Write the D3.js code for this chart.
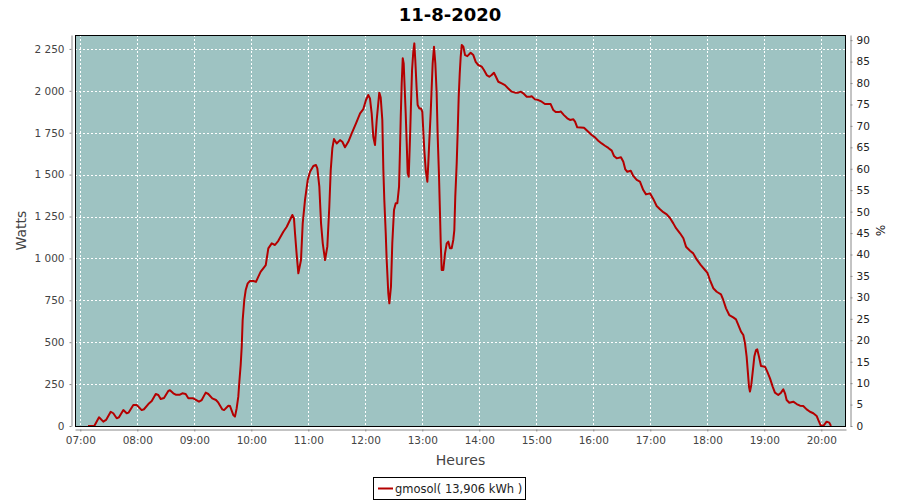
<!DOCTYPE html>
<html>
<head>
<meta charset="utf-8">
<script src="https://cdn.jsdelivr.net/npm/d3@7"></script>
<style>
  html, body { margin: 0; padding: 0; background: #fff; }
  svg { display: block; font-family: "DejaVu Sans", sans-serif; }
</style>
</head>
<body>
<svg id="chart" width="900" height="500"></svg>
<script>
// ---- Data ----
const title = "11-8-2020";
const seriesName = "gmosol( 13,906 kWh )";
const yLabel = "Watts";
const y2Label = "%";
const xLabel = "Heures";

// minutes after 07:00
const minutesFrom7 = [
  8.1,14.7,19.7,24.2,27.1,32,34.7,38.3,40.7,45.3,48.8,50.9,55.8,59.4,64.6,67,71.6,75.2,79.4,82.1,
  84.6,88.1,92.6,94.4,97.9,100.4,104.9,107.4,110.9,113.7,118.9,124.9,127.8,132,134.7,138.9,142.8,145.3,149.5,151.3,
  155.8,157.6,161,162.8,164.6,166.3,167.4,168.8,169.9,170.9,172.6,174.1,176.2,178.6,182.1,184.9,187.4,189.9,192.6,195.2,
  197.9,201.5,204.9,208.4,213.7,217.3,220.7,223.2,224.9,226,227.8,229.5,232.3,234.1,236.5,239.4,241.8,245.3,248.1,249.5,
  251.6,253.4,255.2,257.6,260,262.1,263.6,265.3,267,269.9,273.4,275.8,278.6,282.1,285.7,290.2,294.5,297.9,300.7,303.1,
  304.9,306.7,308.4,310.2,312,314.7,316.2,317.9,319,320,321.5,322.5,324.2,325.3,327,328.4,330.2,332,333.7,335.5,
  336.5,337.3,338.3,339.4,340.4,341.1,342.5,343.6,344.6,345.7,347.1,348.1,349.2,350.5,351.6,352.6,354.1,355.1,356.8,358.6,
  360,361,362.1,363.6,365.3,366.3,367.4,368.8,369.9,370.9,372.3,373.7,375.1,376.2,377.6,378.6,379.4,380.4,382.1,383.9,
  385.7,387.4,389.1,390.9,392.6,393.7,394.7,396.2,397.3,398.3,399.4,400.4,401.5,403.2,405,407.4,410.9,413.7,416.2,418.9,
  422.5,424.9,427.8,430.5,433,435.4,437.5,440,443.6,447,450.5,454.1,457.6,461,463.6,466.3,469.9,473.4,475.1,478.6,
  482.1,485.7,489.1,495.1,497.9,500.4,503.9,505.7,509.1,512.6,515.5,519,520.8,523.1,530.2,534.7,538.3,541.8,545.2,548.8,
  552.3,555.8,559.4,561.8,564.6,569.1,571.6,573.7,575.8,579.4,582.1,585.7,589.1,592.6,595.5,599.7,603.1,606.7,610.2,613.7,
  617.3,620.7,624.2,627.1,631.3,634.8,637.6,641.8,645.2,648.8,653,657.6,660,662.8,666.3,669.9,674.4,676.8,679.7,683.1,
  687.3,690.2,692.6,695.5,697.9,699.7,701.4,702.8,703.9,704.9,706.3,708.4,709.5,711.3,712.6,714.4,716.5,720.7,723.1,726,
  728.8,731.2,734.7,737.6,740,741.8,743.5,746.3,750.5,754.1,757.6,761,764.6,768.1,771.6,775.1,776.8,779.3,782.1,785.6,
  788.4,790.2
];
const watts = [
  0,0,52,26,36,85,76,46,52,95,76,80,125,125,95,100,131,149,191,185,
  161,167,209,213,195,187,187,195,191,165,165,145,155,199,191,165,155,139,99,95,
  121,119,66,56,106,175,264,364,473,632,752,811,851,865,865,860,891,921,941,960,
  1060,1090,1080,1105,1159,1189,1229,1259,1239,1150,1020,911,990,1209,1348,1468,1517,1551,1557,1537,
  1428,1209,1090,990,1070,1308,1527,1657,1712,1686,1706,1696,1663,1696,1746,1806,1866,1891,1945,1975,
  1955,1866,1726,1676,1826,1989,1960,1826,1527,1348,1150,990,792,732,831,1090,1289,1329,1329,1428,
  1647,1845,2044,2194,2164,2064,1866,1686,1508,1487,1726,1925,2124,2233,2283,2184,2005,1915,1895,1895,
  1875,1766,1647,1527,1458,1567,1706,1866,2024,2164,2263,2164,1985,1726,1487,1269,1090,931,931,1030,
  1090,1100,1060,1060,1110,1169,1368,1567,1766,1965,2104,2203,2273,2263,2213,2207,2227,2213,2173,2154,
  2144,2124,2094,2084,2094,2108,2084,2054,2044,2034,2014,1995,1989,1989,1995,1985,1965,1965,1968,1949,
  1945,1935,1921,1921,1885,1873,1873,1877,1855,1836,1826,1830,1816,1782,1780,1756,1736,1722,1702,1686,
  1672,1659,1643,1611,1597,1603,1577,1531,1517,1523,1492,1468,1458,1408,1382,1388,1355,1313,1293,1276,
  1263,1241,1209,1180,1150,1120,1070,1046,1030,994,961,931,915,871,822,801,786,752,702,662,
  648,636,603,563,543,493,414,314,234,205,245,354,414,453,457,414,358,354,324,284,
  235,199,185,199,219,195,155,139,145,131,121,119,99,85,76,60,36,4,0,26,
  20,0
];

const xDomainMinutes = [-5.6, 806];
const wattsMax = 2333;
const percentMax = 91.2;
const wattTicks = [0,250,500,750,1000,1250,1500,1750,2000,2250];
const percentTicks = [0,5,10,15,20,25,30,35,40,45,50,55,60,65,70,75,80,85,90];
const hourTicks = [7,8,9,10,11,12,13,14,15,16,17,18,19,20];

// ---- Layout ----
const plot = { left: 75, right: 846, top: 35, bottom: 426 };
const base = new Date(2020, 7, 11, 7, 0, 0);
const toDate = m => new Date(base.getTime() + m * 60000);
const data = minutesFrom7.map((m, i) => ({ t: toDate(m), v: watts[i] }));

const svg = d3.select("#chart");

const x = d3.scaleTime().domain(xDomainMinutes.map(toDate)).range([plot.left, plot.right]);
const y = d3.scaleLinear().domain([0, wattsMax]).range([plot.bottom, plot.top]);
const y2 = d3.scaleLinear().domain([0, percentMax]).range([plot.bottom, plot.top]);

const locale = d3.formatLocale({ decimal: ",", thousands: " ", grouping: [3], currency: ["", " €"] });
const fmtW = locale.format(",d");
const hourDates = hourTicks.map(h => new Date(2020, 7, 11, h, 0, 0));

// plot background
svg.append("rect")
  .attr("x", plot.left).attr("y", plot.top)
  .attr("width", plot.right - plot.left).attr("height", plot.bottom - plot.top)
  .attr("fill", "#9ec3c2");

// grid lines
const grid = svg.append("g").attr("stroke", "#ffffff").attr("stroke-width", 1)
  .attr("stroke-dasharray", "2,2").attr("shape-rendering", "crispEdges");
grid.selectAll("line.v").data(hourDates).join("line")
  .attr("x1", d => Math.round(x(d)) + 0.5).attr("x2", d => Math.round(x(d)) + 0.5)
  .attr("y1", plot.top).attr("y2", plot.bottom);
grid.selectAll("line.h").data(wattTicks.filter(d => d > 0)).join("line")
  .attr("y1", d => Math.round(y(d)) + 0.5).attr("y2", d => Math.round(y(d)) + 0.5)
  .attr("x1", plot.left).attr("x2", plot.right);

// clip
svg.append("clipPath").attr("id", "clip").append("rect")
  .attr("x", plot.left).attr("y", plot.top)
  .attr("width", plot.right - plot.left).attr("height", plot.bottom - plot.top);

// series line
const line = d3.line().x(d => x(d.t)).y(d => y(d.v));
svg.append("path").datum(data)
  .attr("clip-path", "url(#clip)")
  .attr("fill", "none").attr("stroke", "#b40000").attr("stroke-width", 2)
  .attr("stroke-linejoin", "round")
  .attr("d", line);

// plot outline
svg.append("rect")
  .attr("x", plot.left + 0.5).attr("y", plot.top + 0.5)
  .attr("width", plot.right - plot.left - 1).attr("height", plot.bottom - plot.top)
  .attr("fill", "none").attr("stroke", "#000").attr("stroke-width", 1);

// axes
function styleAxis(g, color) {
  g.select(".domain").attr("stroke", "#888");
  g.selectAll(".tick line").attr("stroke", "#888");
  g.selectAll(".tick text").attr("fill", color).attr("font-size", "10.5px")
    .attr("font-family", "DejaVu Sans, sans-serif");
}

const xAxis = svg.append("g").attr("transform", `translate(0,${plot.bottom + 3.5})`)
  .call(d3.axisBottom(x).tickValues(hourDates).tickFormat(d3.timeFormat("%H:%M"))
    .tickSizeInner(2).tickSizeOuter(0).tickPadding(5));
styleAxis(xAxis, "#444");

const yAxis = svg.append("g").attr("transform", `translate(${plot.left - 3.5},0)`)
  .call(d3.axisLeft(y).tickValues(wattTicks).tickFormat(fmtW)
    .tickSizeInner(2).tickSizeOuter(0).tickPadding(5));
styleAxis(yAxis, "#444");

const y2Axis = svg.append("g").attr("transform", `translate(${plot.right + 4.5},0)`)
  .call(d3.axisRight(y2).tickValues(percentTicks).tickFormat(d3.format("d"))
    .tickSizeInner(2).tickSizeOuter(0).tickPadding(4));
styleAxis(y2Axis, "#222");

// title
svg.append("text").attr("x", 450).attr("y", 21).attr("text-anchor", "middle")
  .attr("font-size", "18px").attr("font-weight", "bold").attr("fill", "#000")
  .text(title);

// axis labels
svg.append("text").attr("x", (plot.left + plot.right) / 2).attr("y", 465)
  .attr("text-anchor", "middle").attr("font-size", "14px").attr("fill", "#444")
  .text(xLabel);
svg.append("text")
  .attr("transform", `translate(26,${(plot.top + plot.bottom) / 2}) rotate(-90)`)
  .attr("text-anchor", "middle").attr("font-size", "14px").attr("fill", "#444")
  .text(yLabel);
svg.append("text")
  .attr("transform", `translate(876,${(plot.top + plot.bottom) / 2}) rotate(90)`)
  .attr("text-anchor", "middle").attr("font-size", "12px").attr("fill", "#222")
  .text(y2Label);

// legend
const lg = svg.append("g");
lg.append("rect").attr("x", 373.5).attr("y", 477.5).attr("width", 152).attr("height", 22)
  .attr("fill", "#fff").attr("stroke", "#000").attr("stroke-width", 1);
lg.append("line").attr("x1", 378).attr("x2", 393).attr("y1", 488.5).attr("y2", 488.5)
  .attr("stroke", "#b40000").attr("stroke-width", 2);
lg.append("text").attr("x", 395).attr("y", 493).attr("font-size", "11.5px").attr("fill", "#222")
  .text(seriesName);
</script>
</body>
</html>
